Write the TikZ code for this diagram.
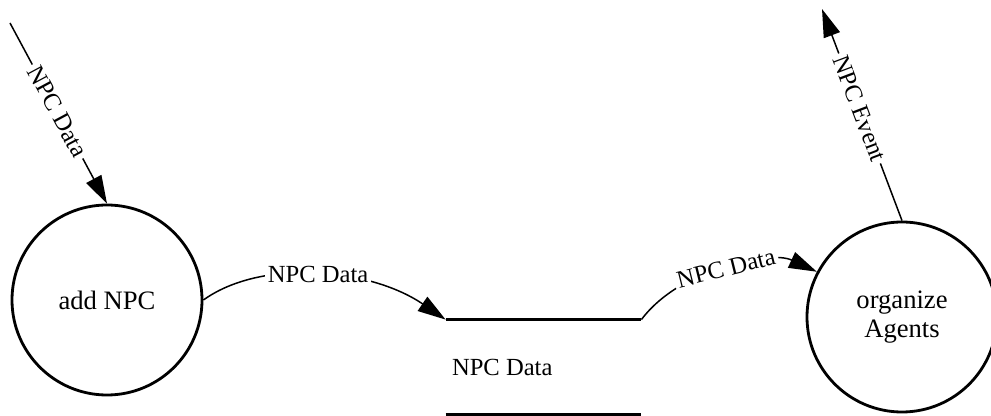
\documentclass[tikz,border=0pt]{standalone}
\usepackage{fontspec}
\setmainfont{Liberation Serif}
\usetikzlibrary{arrows.meta}

\tikzset{
  process/.style={circle, draw, line width=1.4pt, minimum size=95pt, inner sep=0pt,
    align=center, font=\fontsize{13.3}{14.5}\selectfont},
  storebox/.style={rectangle, minimum width=97.5pt, minimum height=47pt, inner sep=0pt},
  storeline/.style={line width=1.5pt},
  flow/.style={line width=0.75pt, -{Triangle[length=14pt,width=8.5pt]}},
  flowback/.style={line width=0.75pt, {Triangle[length=14pt,width=8.5pt]}-},
  lbl/.style={fill=white, inner sep=1.5pt, font=\fontsize{12.3}{14}\selectfont},
  storetext/.style={anchor=west, inner sep=0pt, font=\fontsize{12.3}{14}\selectfont}
}

\begin{document}
\begin{tikzpicture}[x=0.5pt, y=-0.5pt]
  \useasboundingbox (0,0) rectangle (991,416);

  % processes
  \node[process] (add) at (107,300) {add NPC};
  \node[process] (org) at (902,317) {organize\\Agents};

  % data store: two horizontal bars with the store name between them
  \node[storebox] (store) at (543.5,367) {};
  \draw[storeline] (store.north west) -- (store.north east);
  \draw[storeline] (store.south west) -- (store.south east);
  \node[storetext] (storename) at ([xshift=3pt]store.west) {NPC Data};

  % external ends of the flows
  \coordinate (src) at (10,23);
  \coordinate (sink) at (822,9);

  % flows
  \draw[flow] (src) -- node[lbl, sloped, pos=0.49] {NPC Data} (add.north);
  \draw[flow] (add.east) .. controls (262,258) and (370,268) ..
    node[lbl, pos=0.5] {NPC Data} (store.north west);
  \draw[flow] (store.north east) .. controls (680,268) and (770,250) ..
    node[lbl, sloped, pos=0.5] {NPC Data} (org.152);
  \draw[flowback] (sink) -- node[lbl, sloped, pos=0.47] {NPC Event} (org.north);
\end{tikzpicture}
\end{document}
